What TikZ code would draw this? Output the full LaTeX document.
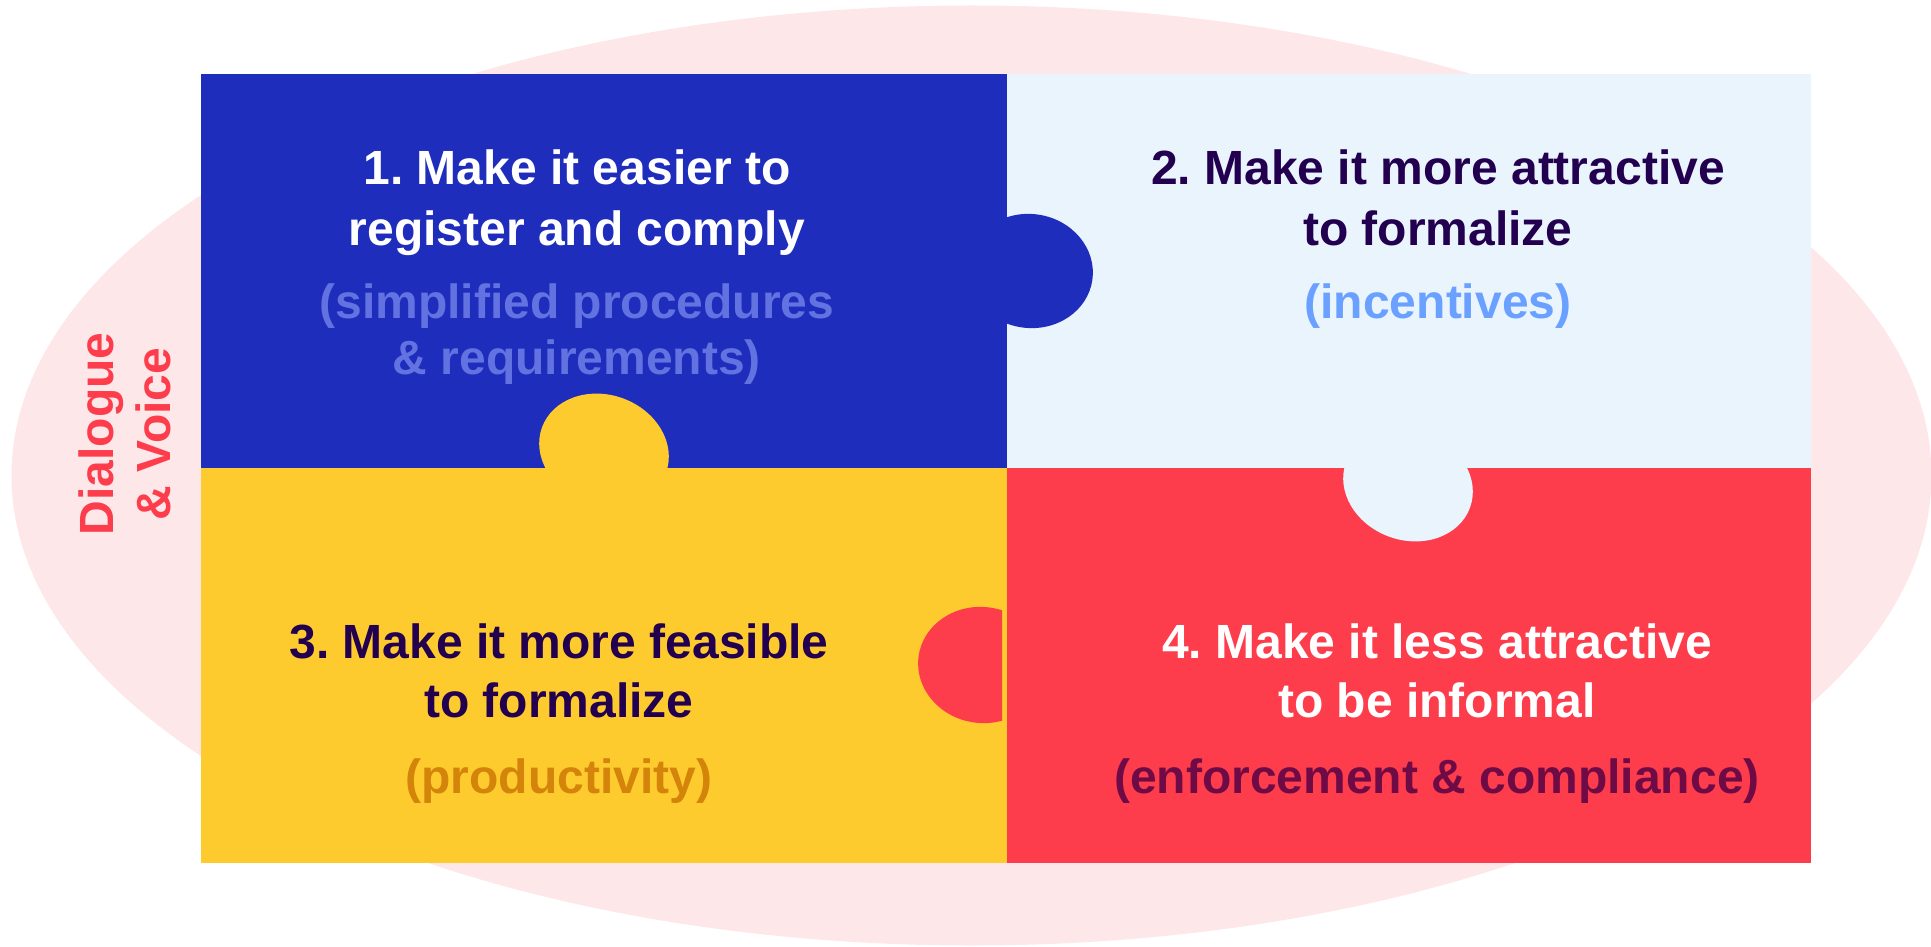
\documentclass[tikz,border=0pt]{standalone}
\usepackage{fontspec}
\setmainfont{Liberation Sans}
\usetikzlibrary{
    positioning,
    calc,
}

\definecolor{pinkbg}{HTML}{FDE7E9}
\definecolor{bluebox}{HTML}{1F2DBD}
\definecolor{lightbox}{HTML}{EAF4FD}
\definecolor{yellowbox}{HTML}{FECB2E}
\definecolor{redbox}{HTML}{FD3C4C}
\definecolor{darkpurple}{HTML}{22004F}
\definecolor{paleblue}{HTML}{6272E0}
\definecolor{skyblue}{HTML}{6AA0FF}
\definecolor{ochre}{HTML}{D4840A}
\definecolor{maroon}{HTML}{6E0A46}

\frenchspacing

\begin{document}
\begin{tikzpicture}[
    x=1pt, y=-1pt,
    txt/.style={font=\fontsize{48}{58}\selectfont\bfseries, anchor=base, inner sep=0pt},
    ]

\useasboundingbox (0,0) rectangle (1931,947);

% background oval
\fill[pinkbg] (971.5,475.5) ellipse [x radius=960pt, y radius=470pt];

% four pieces
\fill[bluebox] (201,74) rectangle (1007,468);
\fill[lightbox] (1007,74) rectangle (1811,468);
\fill[yellowbox] (201,468) rectangle (1007,863);
\fill[redbox] (1007,468) rectangle (1811,863);

% tabs
\fill[bluebox, rotate around={-8:(1030,271)}] (1030,271) ellipse [x radius=63pt, y radius=57pt];
\fill[yellowbox, rotate around={-20:(604,450)}] (604,450) ellipse [x radius=66pt, y radius=55pt];
\fill[lightbox, rotate around={-20:(1408,485)}] (1408,485) ellipse [x radius=66pt, y radius=55pt];
\begin{scope}
    \clip (0,0) rectangle (1002,947);
    \fill[redbox, rotate around={-8:(982,665)}] (982,665) ellipse [x radius=64pt, y radius=58pt];
\end{scope}

% piece 1
\node[txt, text=white] at (577,185) (easier1) {1. Make it easier to};
\node[txt, text=white] at ([yshift=-60pt]easier1.base) (easier2) {register and comply};
\node[txt, text=paleblue] at ([yshift=-73pt]easier2.base) (easier3) {(simplified procedures};
\node[txt, text=paleblue] at ([yshift=-56pt]easier3.base) (easier4) {\& requirements)};

% piece 2
\node[txt, text=darkpurple] at (1438,185) (attract1) {2. Make it more attractive};
\node[txt, text=darkpurple] at ([yshift=-60pt]attract1.base) (attract2) {to formalize};
\node[txt, text=skyblue] at ([yshift=-73pt]attract2.base) (attract3) {(incentives)};

% piece 3
\node[txt, text=darkpurple] at (559,658) (feasible1) {3. Make it more feasible};
\node[txt, text=darkpurple] at ([yshift=-59pt]feasible1.base) (feasible2) {to formalize};
\node[txt, text=ochre] at ([yshift=-76pt]feasible2.base) (feasible3) {(productivity)};

% piece 4
\node[txt, text=white] at (1437,658) (informal1) {4. Make it less attractive};
\node[txt, text=white] at ([yshift=-59pt]informal1.base) (informal2) {to be informal};
\node[txt, text=maroon] at ([yshift=-76pt]informal2.base) (informal3) {(enforcement \& compliance)};

% side label
\node[txt, text=redbox, rotate=90] at (113,434) (dialogue) {Dialogue};
\node[txt, text=redbox, rotate=90] at (170,434) (voice) {\& Voice};

\end{tikzpicture}
\end{document}
